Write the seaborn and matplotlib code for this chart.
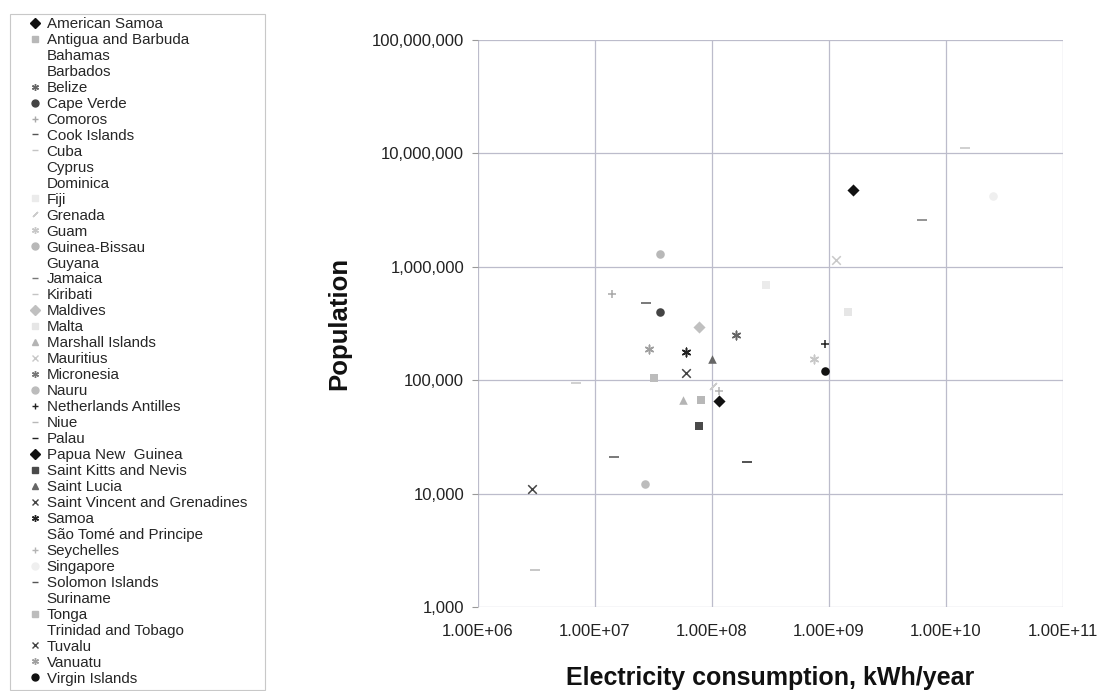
import numpy as np
import pandas as pd
import matplotlib
matplotlib.use("Agg")
import matplotlib.pyplot as plt
from matplotlib.lines import Line2D
from matplotlib.patches import Rectangle
from matplotlib.ticker import FixedLocator, FuncFormatter, NullLocator
import seaborn as sns

# Countries as listed in the legend
countries = [
    "American Samoa", "Antigua and Barbuda", "Bahamas", "Barbados", "Belize",
    "Cape Verde", "Comoros", "Cook Islands", "Cuba", "Cyprus", "Dominica",
    "Fiji", "Grenada", "Guam", "Guinea-Bissau", "Guyana", "Jamaica",
    "Kiribati", "Maldives", "Malta", "Marshall Islands", "Mauritius",
    "Micronesia", "Nauru", "Netherlands Antilles", "Niue", "Palau",
    "Papua New  Guinea", "Saint Kitts and Nevis", "Saint Lucia",
    "Saint Vincent and Grenadines", "Samoa", "São Tomé and Principe",
    "Seychelles", "Singapore", "Solomon Islands", "Suriname", "Tonga",
    "Trinidad and Tobago", "Tuvalu", "Vanuatu", "Virgin Islands",
]

# Electricity consumption, kWh/year (nan = not visible)
consumption = [
    1.15e8, 8.1e7, np.nan, np.nan, 1.6e8,
    3.6e7, 1.4e7, 1.45e7, 1.45e10, np.nan, np.nan,
    2.9e8, 1.01e8, 7.4e8, 3.6e7, np.nan, 6.2e9,
    6.9e6, 7.8e7, 1.46e9, 5.7e7, 1.15e9,
    np.nan, 2.7e7, 9.3e8, 3.07e6, 2.0e8,
    1.6e9, 7.8e7, 1.0e8,
    6.0e7, 6.0e7, np.nan,
    1.15e8, 2.5e10, 2.75e7, np.nan, 3.2e7,
    np.nan, 2.9e6, 2.9e7, 9.3e8,
]

# Population
population = [
    6.5e4, 6.7e4, np.nan, np.nan, 2.5e5,
    4.0e5, 5.75e5, 2.1e4, 1.11e7, np.nan, np.nan,
    6.9e5, 8.9e4, 1.55e5, 1.3e6, np.nan, 2.6e6,
    9.4e4, 2.97e5, 4.0e5, 6.7e4, 1.15e6,
    np.nan, 1.22e4, 2.07e5, 2.1e3, 1.89e4,
    4.8e6, 3.95e4, 1.53e5,
    1.15e5, 1.78e5, np.nan,
    8.0e4, 4.2e6, 4.8e5, np.nan, 1.04e5,
    np.nan, 1.1e4, 1.88e5, 1.2e5,
]

# marker / grey tone per country (None = no visible marker)
markers = [
    "D", "s", None, None, (6, 2, 0),
    "o", "+", "_", "_", None, None,
    "s", (2, 2, 135), (6, 2, 0), "o", None, "_",
    "_", "D", "s", "^", "x",
    (6, 2, 0), "o", "+", "_", "_",
    "D", "s", "^",
    "x", (6, 2, 0), None,
    "+", "o", "_", None, "s",
    None, "x", (6, 2, 0), "o",
]
tones = [
    "#111111", "#b8b8b8", "#ffffff", "#ffffff", "#666666",
    "#444444", "#a8a8a8", "#555555", "#c4c4c4", "#ffffff", "#ffffff",
    "#ebebeb", "#cccccc", "#c8c8c8", "#b8b8b8", "#ffffff", "#777777",
    "#c4c4c4", "#c0c0c0", "#e6e6e6", "#b4b4b4", "#c8c8c8",
    "#777777", "#bcbcbc", "#222222", "#b8b8b8", "#222222",
    "#111111", "#4a4a4a", "#666666",
    "#444444", "#222222", "#ffffff",
    "#b4b4b4", "#efefef", "#555555", "#ffffff", "#bcbcbc",
    "#ffffff", "#444444", "#a0a0a0", "#111111",
]

df = pd.DataFrame({"country": countries, "kwh": consumption, "pop": population})

sns.set_theme(style="white")
plt.rcParams["font.family"] = ["Liberation Sans", "DejaVu Sans"]

fig = plt.figure(figsize=(11.03, 6.91), dpi=100)
ax = fig.add_axes([478 / 1103, 1 - 607 / 691, 585 / 1103, 567 / 691])

for i, row in df.iterrows():
    m = markers[i]
    if m is None or np.isnan(row["kwh"]):
        continue
    line_art = m in ("+", "_", "x") or isinstance(m, tuple)
    sns.scatterplot(x=[row["kwh"]], y=[row["pop"]], ax=ax, marker=m,
                    color=tones[i], s=38 if m != "_" else 55,
                    linewidth=1.1 if line_art else 0,
                    edgecolor=None if line_art else tones[i],
                    legend=False, zorder=3)

ax.set_xscale("log")
ax.set_yscale("log")
ax.set_xlim(1e6, 1e11)
ax.set_ylim(1e3, 1e8)

ax.xaxis.set_major_locator(FixedLocator([1e6, 1e7, 1e8, 1e9, 1e10, 1e11]))
ax.xaxis.set_minor_locator(NullLocator())
ax.yaxis.set_major_locator(FixedLocator([1e3, 1e4, 1e5, 1e6, 1e7, 1e8]))
ax.yaxis.set_minor_locator(NullLocator())
ax.xaxis.set_major_formatter(FuncFormatter(lambda v, p: "{:.2E}".format(v)))
ax.yaxis.set_major_formatter(FuncFormatter(lambda v, p: "{:,.0f}".format(v)))

ax.grid(True, color="#bcbccb", linewidth=0.9)
for sp in ax.spines.values():
    sp.set_visible(False)
ax.tick_params(axis="y", length=4, width=0.8, color="#999999", labelsize=12,
               pad=6, left=True, labelcolor="#222222")
ax.tick_params(axis="x", length=0, labelsize=12, pad=12, labelcolor="#222222")

ax.set_xlabel("Electricity consumption, kWh/year", fontsize=18,
              fontweight="bold", labelpad=20, color="#111111")
ax.set_ylabel("Population", fontsize=18.5, fontweight="bold", labelpad=15,
              color="#111111")

# legend box on the left
fig.patches.append(Rectangle((10 / 1103, 1 - 690 / 691), 255 / 1103, 676 / 691,
                             transform=fig.transFigure, fill=False,
                             edgecolor="#c8c8c8", linewidth=0.8))

handles = []
for i, name in enumerate(countries):
    m = markers[i]
    if m is None:
        handles.append(Line2D([], [], linestyle="none", marker="None", label=name))
    else:
        handles.append(Line2D([], [], linestyle="none", marker=m, color=tones[i],
                              markersize=5, markeredgewidth=1.0, label=name))

leg = fig.legend(handles=handles, loc="upper left",
                 bbox_to_anchor=(27 / 1103, 1 - 17 / 691), fontsize=10.9,
                 frameon=False, borderpad=0, labelspacing=0.13,
                 handlelength=1.0, handletextpad=0.3, borderaxespad=0)

fig.savefig("out.png", dpi=100)
